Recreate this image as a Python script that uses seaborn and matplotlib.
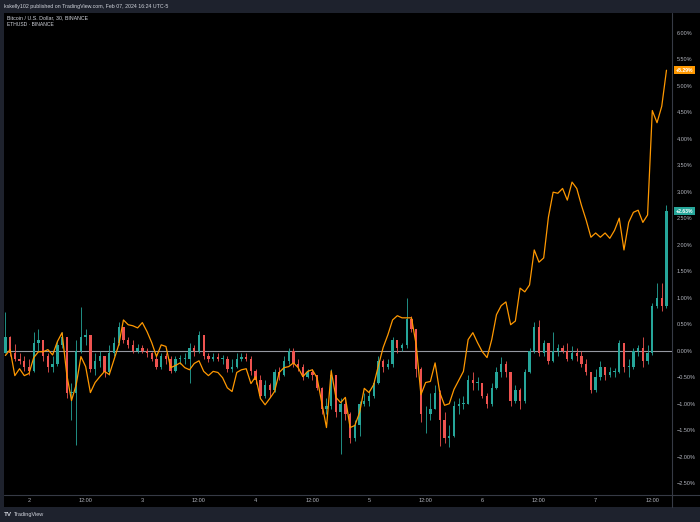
import numpy as np
import pandas as pd
import matplotlib
matplotlib.use("Agg")
import matplotlib.pyplot as plt
import seaborn as sns

# ---------------- data (percent change, hourly, first bar Feb 1 19:00) ----------------
start_time = "2024-02-01 19:00"
day_zero = "2024-02-02 00:00"

btc_first_open = -0.05
btc_close_pre = [0.25, -0.05, -0.15, -0.20, -0.30]
btc_close_d2 = [-0.38, 0.15, 0.20, -0.10, -0.30, -0.25, 0.10, 0.25, -0.80, -0.80, 0.00, 0.25,
                0.30, -0.35, -0.20, -0.10, -0.40, -0.05, 0.15, 0.45, 0.20, 0.10, 0.00, 0.05]
btc_close_d3 = [0.00, -0.05, -0.15, -0.30, -0.10, -0.15, -0.38, -0.15, -0.15, -0.15, 0.05, 0.00,
                0.30, -0.10, -0.15, -0.12, -0.15, -0.15, -0.35, -0.30, -0.15, -0.12, -0.15, -0.38]
btc_close_d4 = [-0.55, -0.85, -0.65, -0.75, -0.40, -0.45, -0.20, 0.00, -0.25, -0.30, -0.50, -0.40,
                -0.45, -0.70, -1.10, -1.05, -0.45, -1.15, -1.00, -1.20, -1.65, -1.40, -1.00, -0.95]
btc_close_d5 = [-0.85, -0.60, -0.20, -0.30, -0.25, 0.20, 0.05, 0.10, 0.60, 0.40, -0.35, -1.20,
                -1.20, -1.10, -0.80, -1.30, -1.65, -1.60, -1.05, -1.00, -1.00, -0.55, -0.60, -0.60]
btc_close_d6 = [-0.85, -1.00, -0.70, -0.40, -0.25, -0.40, -0.95, -0.75, -0.95, -0.40, 0.00, 0.45,
                -0.05, 0.15, -0.20, 0.00, 0.05, 0.00, -0.15, -0.05, -0.10, -0.25, -0.40, -0.75]
btc_close_d7 = [-0.50, -0.30, -0.45, -0.40, -0.40, 0.15, -0.30, -0.30, 0.00, 0.05, -0.20, -0.05,
                0.85, 1.00, 0.85, 2.63]

btc_high_pre = [0.73, 0.28, 0.12, -0.05, -0.10]
btc_high_d2 = [-0.15, 0.35, 0.40, 0.10, -0.05, -0.10, 0.18, 0.35, 0.00, -0.60, 0.20, 0.83,
               0.40, 0.20, -0.05, 0.00, -0.10, 0.10, 0.25, 0.55, 0.45, 0.25, 0.20, 0.12]
btc_high_d3 = [0.10, 0.05, -0.02, -0.10, -0.05, -0.05, -0.10, -0.10, -0.08, -0.05, 0.15, 0.10,
               0.37, 0.30, -0.05, -0.05, -0.05, -0.08, -0.10, -0.15, -0.05, -0.05, -0.05, -0.10]
btc_high_d4 = [-0.35, -0.45, -0.55, -0.60, -0.35, -0.30, -0.10, 0.05, 0.05, -0.15, -0.25, -0.35,
               -0.35, -0.45, -0.68, -0.90, -0.35, -0.50, -0.90, -0.90, -1.15, -1.30, -0.95, -0.80]
btc_high_d5 = [-0.75, -0.55, -0.10, -0.15, -0.15, 0.25, 0.15, 0.15, 1.00, 0.65, 0.35, -0.30,
               -1.05, -0.80, -0.65, -0.75, -1.15, -1.40, -0.95, -0.90, -0.85, -0.45, -0.40, -0.50]
btc_high_d6 = [-0.65, -0.80, -0.60, -0.30, -0.12, -0.20, -0.40, -0.65, -0.70, -0.35, 0.05, 0.55,
               0.58, 0.20, 0.05, 0.35, 0.12, 0.10, 0.15, 0.08, 0.05, 0.00, -0.15, -0.40]
btc_high_d7 = [-0.35, -0.20, -0.30, -0.30, -0.32, 0.20, 0.10, -0.15, 0.05, 0.10, 0.25, 0.10,
               0.90, 1.28, 1.28, 2.75]

btc_low_pre = [-0.05, -0.10, -0.20, -0.25, -0.38]
btc_low_d2 = [-0.45, -0.40, 0.00, -0.20, -0.40, -0.40, -0.28, 0.05, -0.90, -1.30, -1.77, -0.05,
              0.10, -0.40, -0.45, -0.30, -0.50, -0.45, -0.10, 0.10, 0.15, 0.05, -0.05, -0.05]
btc_low_d3 = [-0.05, -0.12, -0.20, -0.35, -0.35, -0.25, -0.42, -0.40, -0.25, -0.25, -0.60, -0.10,
              -0.05, -0.15, -0.22, -0.20, -0.20, -0.25, -0.40, -0.40, -0.32, -0.20, -0.20, -0.45]
btc_low_d4 = [-0.62, -0.90, -0.90, -0.88, -0.78, -0.55, -0.48, -0.25, -0.30, -0.38, -0.55, -0.52,
              -0.55, -0.75, -1.20, -1.20, -1.10, -1.25, -1.95, -1.30, -1.75, -1.70, -1.60, -1.05]
btc_low_d5 = [-1.05, -0.90, -0.62, -0.40, -0.35, -0.30, -0.05, 0.00, 0.05, 0.35, -0.50, -1.35,
              -1.55, -1.30, -1.10, -1.80, -1.75, -1.82, -1.62, -1.20, -1.10, -1.00, -0.75, -0.75]
btc_low_d6 = [-0.90, -1.08, -1.05, -0.72, -0.50, -0.50, -1.05, -0.98, -1.10, -0.98, -0.42, -0.05,
              -0.10, -0.10, -0.25, -0.22, -0.10, -0.05, -0.20, -0.18, -0.20, -0.30, -0.45, -0.80]
btc_low_d7 = [-0.78, -0.55, -0.55, -0.50, -0.50, -0.42, -0.40, -0.50, -0.35, -0.10, -0.30, -0.25,
              -0.08, 0.80, 0.75, 0.80]

eth_pre = [-0.09, 0.02, -0.47, -0.34, -0.47]
eth_d2 = [-0.43, -0.13, -0.02, -0.02, 0.02, -0.08, 0.17, 0.34, -0.45, -0.94, -0.64, -0.11,
          -0.30, -0.79, -0.60, -0.49, -0.39, -0.45, -0.17, 0.11, 0.58, 0.49, 0.47, 0.43]
eth_d3 = [0.53, 0.36, 0.15, -0.11, 0.11, 0.08, -0.32, -0.28, -0.23, -0.32, -0.36, -0.24,
          -0.19, -0.39, -0.47, -0.39, -0.41, -0.51, -0.70, -0.77, -0.41, -0.36, -0.34, -0.62]
eth_d4 = [-0.49, -0.90, -1.02, -0.90, -0.77, -0.41, -0.32, -0.30, -0.23, -0.32, -0.49, -0.39,
          -0.36, -0.51, -0.98, -1.45, -0.38, -0.88, -0.98, -0.88, -1.45, -1.41, -1.17, -0.71]
eth_d5 = [-0.79, -0.64, -0.28, 0.06, 0.30, 0.58, 0.66, 0.62, 0.62, 0.62, 0.11, -0.83,
          -0.60, -0.58, -0.23, -0.79, -1.03, -1.00, -0.73, -0.56, -0.39, 0.21, 0.34, 0.15]
eth_d6 = [-0.02, -0.13, 0.21, 0.68, 0.85, 0.92, 0.49, 0.56, 1.18, 1.11, 1.24, 1.90,
          1.67, 1.75, 2.52, 2.99, 2.97, 3.06, 2.84, 3.18, 3.06, 2.74, 2.46, 2.14]
eth_d7 = [2.22, 2.14, 2.22, 2.12, 2.27, 2.50, 1.90, 2.42, 2.61, 2.65, 2.42, 2.56,
          4.53, 4.30, 4.61, 5.29]

time_tick_hours = [0, 12, 24, 36, 48, 60, 72, 84, 96, 108, 120, 132]
time_tick_labels = ["2", "12:00", "3", "12:00", "4", "12:00", "5", "12:00", "6", "12:00", "7", "12:00"]
price_ticks = [-2.5, -2.0, -1.5, -1.0, -0.5, 0.0, 0.5, 1.0, 1.5, 2.0, 2.5, 3.0, 3.5, 4.0, 4.5, 5.0, 5.5, 6.0]

header_text = "kskelly102 published on TradingView.com, Feb 07, 2024 16:24 UTC-5"
legend_btc = "Bitcoin / U.S. Dollar, 30, BINANCE"
legend_eth = "ETHUSD · BINANCE"

# ---------------- assemble ----------------
close = np.array(btc_close_pre + btc_close_d2 + btc_close_d3 + btc_close_d4 + btc_close_d5 + btc_close_d6 + btc_close_d7)
high = np.array(btc_high_pre + btc_high_d2 + btc_high_d3 + btc_high_d4 + btc_high_d5 + btc_high_d6 + btc_high_d7)
low = np.array(btc_low_pre + btc_low_d2 + btc_low_d3 + btc_low_d4 + btc_low_d5 + btc_low_d6 + btc_low_d7)
eth = np.array(eth_pre + eth_d2 + eth_d3 + eth_d4 + eth_d5 + eth_d6 + eth_d7)
n = len(close)
opn = np.concatenate([[btc_first_open], close[:-1]])
high = np.maximum(high, np.maximum(opn, close))
low = np.minimum(low, np.minimum(opn, close))

times = pd.date_range(start_time, periods=n, freq="h")
hours = ((times - pd.Timestamp(day_zero)) / pd.Timedelta(hours=1)).to_numpy()
df = pd.DataFrame({"hour": hours, "open": opn, "close": close, "high": high, "low": low, "eth": eth})

# ---------------- style ----------------
W, H = 700, 522
sns.set_theme(style="dark")
plt.rcParams["font.family"] = ["Liberation Sans", "DejaVu Sans"]
frame_col = "#1e222d"
text_col = "#b2b5be"
sep_col = "#363a45"
up_col = "#26a69a"
dn_col = "#ef5350"
eth_col = "#ff9800"

fig = plt.figure(figsize=(W / 100, H / 100), dpi=100, facecolor=frame_col)
# black chart panel (behind the axes)
panel = plt.Rectangle((4 / W, 1 - 507 / H), 1 - 4 / W, (507 - 13) / H,
                      transform=fig.transFigure, facecolor="black", edgecolor="none", zorder=-10)
fig.patches.append(panel)
# separators of the price / time scales
fig.lines.append(plt.Line2D([672 / W, 672 / W], [1 - 507 / H, 1 - 13 / H], transform=fig.transFigure,
                            color=sep_col, linewidth=0.8, zorder=5))
fig.lines.append(plt.Line2D([4 / W, 1], [1 - 495 / H, 1 - 495 / H], transform=fig.transFigure,
                            color=sep_col, linewidth=0.8, zorder=5))

ax = fig.add_axes([4 / W, 1 - 495 / H, (672 - 4) / W, (495 - 13) / H])
ax.set_zorder(1)
ax.set_facecolor("black")

# candles
up = df["close"] >= df["open"]
colors = np.where(up, up_col, dn_col)
ax.vlines(df["hour"], df["low"], df["high"], colors=colors, linewidth=0.6, zorder=3)
body_h = (df["close"] - df["open"]).abs().clip(lower=0.012)
ax.bar(df["hour"], body_h, bottom=np.minimum(df["open"], df["close"]), width=0.5,
       color=colors, linewidth=0, zorder=3)

# zero line
ax.axhline(0, color="#9598a1", linewidth=0.8, zorder=2)

# ETH line
sns.lineplot(data=df, x="hour", y="eth", ax=ax, color=eth_col, linewidth=0.9, zorder=4, legend=False)

# axes
px_per_hour = 4.722
x0_px = 29.0
ax.set_xlim((4 - x0_px) / px_per_hour, (672 - x0_px) / px_per_hour)
zero_px, px_per_pct = 350.7, 53.02
ax.set_ylim((zero_px - 495) / px_per_pct, (zero_px - 13) / px_per_pct)

ax.set_xticks(time_tick_hours)
ax.set_xticklabels(time_tick_labels)
ax.yaxis.tick_right()
ax.set_yticks(price_ticks)
ax.set_yticklabels([("−" if v < 0 else "") + f"{abs(v):.2f}%" for v in price_ticks])
ax.tick_params(axis="both", length=0, colors=text_col, labelsize=4.0)
ax.tick_params(axis="y", pad=3.5)
ax.tick_params(axis="x", pad=2.5)
ax.set_xlabel("")
ax.set_ylabel("")
ax.grid(False)
for s in ["top", "left", "bottom", "right"]:
    ax.spines[s].set_visible(False)

# last-value labels
for val, col in [(eth[-1], eth_col), (close[-1], up_col)]:
    ax.annotate(f"+{val:.2f}%", xy=(1.0, val), xycoords=("axes fraction", "data"),
                xytext=(2.5, 0), textcoords="offset points", ha="left", va="center",
                fontsize=3.7, color="white", fontweight="bold",
                bbox=dict(boxstyle="square,pad=0.3", fc=col, ec="none"), zorder=10,
                annotation_clip=False)

# header / legend / footer text
fig.text(4 / W, 1 - 6.5 / H, header_text, fontsize=3.8, color="#d1d4dc", ha="left", va="center")
fig.text(7 / W, 1 - 17.5 / H, legend_btc, fontsize=3.8, color="#d1d4dc", ha="left", va="center")
fig.text(7 / W, 1 - 25 / H, legend_eth, fontsize=3.6, color="#d1d4dc", ha="left", va="center")
fig.text(4 / W, 1 - 514.5 / H, "TV", fontsize=4.5, color="#d1d4dc", ha="left", va="center", fontweight="bold")
fig.text(14 / W, 1 - 514.5 / H, "TradingView", fontsize=4.0, color="#d1d4dc", ha="left", va="center")

fig.savefig("out.png", dpi=100, facecolor=frame_col)
